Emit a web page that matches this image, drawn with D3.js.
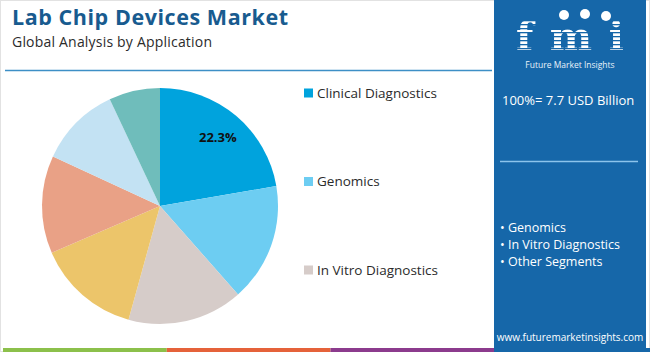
<!DOCTYPE html>
<html>
<head>
<meta charset="utf-8">
<script src="https://cdn.jsdelivr.net/npm/d3@7"></script>
<style>
  body { margin: 0; background: #fff; }
  svg { display: block; font-family: "Open Sans", Roboto, sans-serif; }
</style>
</head>
<body>
<svg></svg>
<script>
let width = 650
let height = 352

// data
let segments = ['Clinical Diagnostics', 'Genomics', 'In Vitro Diagnostics', 'Segment 4', 'Segment 5', 'Segment 6', 'Segment 7']
let shares = [22.3, 16.2, 15.8, 14.2, 13.4, 11.1, 7.0]
let colors = ['#00a3dd', '#6dcdf2', '#d6ccc9', '#ecc56a', '#e9a186', '#c3e2f3', '#6fbdbb']
let legendItems = ['Clinical Diagnostics', 'Genomics', 'In Vitro Diagnostics']
let sideList = ['Genomics', 'In Vitro Diagnostics', 'Other Segments']
let bottomColors = ['#8cc04b', '#e5623a', '#8c3b8d', '#1667a9']
let marketSize = '100%= 7.7 USD Billion'

let svg = d3.select('svg')
            .attr('width', width)
            .attr('height', height)

// frame
svg.append('rect')
   .attr('x', 0.5).attr('y', 0.5)
   .attr('width', width - 1).attr('height', height - 1)
   .attr('fill', '#fff')
   .attr('stroke', '#e2e2e2')

// titles
svg.append('text')
   .attr('x', 12).attr('y', 25)
   .attr('font-size', 21.5)
   .attr('font-weight', 700)
   .attr('fill', '#185b8f')
   .attr('textLength', 276)
   .text('Lab Chip Devices Market')

svg.append('text')
   .attr('x', 12).attr('y', 47)
   .attr('font-size', 14)
   .attr('fill', '#2b2b2b')
   .attr('textLength', 200)
   .text('Global Analysis by Application')

svg.append('line')
   .attr('x1', 5).attr('x2', 492)
   .attr('y1', 70.5).attr('y2', 70.5)
   .attr('stroke', '#3d8fc6')
   .attr('stroke-width', 1.6)

// pie
let cx = 160
let cy = 206
let radius = 118

let pie = d3.pie().sort(null).value(d => d)
let arc = d3.arc().innerRadius(0).outerRadius(radius)
let labelArc = d3.arc().innerRadius(radius * 0.76).outerRadius(radius * 0.76)

let pieG = svg.append('g')
              .attr('transform', 'translate(' + cx + ',' + cy + ')')

let arcs = pie(shares)

pieG.selectAll('path')
    .data(arcs)
    .enter()
    .append('path')
    .attr('d', arc)
    .attr('fill', (d, i) => colors[i])

pieG.append('text')
    .attr('transform', 'translate(' + labelArc.centroid(arcs[0]) + ')')
    .attr('text-anchor', 'middle')
    .attr('dy', '0.35em')
    .attr('font-size', 13)
    .attr('font-weight', 700)
    .attr('fill', '#111')
    .text(shares[0].toFixed(1) + '%')

// legend
let legendY = d3.scalePoint()
                .domain(legendItems)
                .range([93, 270])

let legend = svg.selectAll('.legend')
                .data(legendItems)
                .enter()
                .append('g')
                .attr('class', 'legend')
                .attr('transform', d => 'translate(304,' + legendY(d) + ')')

legend.append('rect')
      .attr('x', 0).attr('y', -4.5)
      .attr('width', 9).attr('height', 9)
      .attr('fill', d => colors[segments.indexOf(d)])

legend.append('text')
      .attr('x', 13)
      .attr('dy', '0.35em')
      .attr('font-size', 13.5)
      .attr('fill', '#2b2b2b')
      .text(d => d)

// right panel
let panelX = 494
svg.append('rect')
   .attr('x', panelX).attr('y', 0)
   .attr('width', 152).attr('height', height)
   .attr('fill', '#1667a9')

// logo
let logo = svg.append('g')
let defs = svg.append('defs')
let mask = defs.append('mask').attr('id', 'stripes')
mask.append('rect')
    .attr('x', panelX).attr('y', 0)
    .attr('width', 152).attr('height', 60)
    .attr('fill', '#fff')
d3.range(20, 52, 4).forEach(y => {
    mask.append('rect')
        .attr('x', panelX).attr('y', y)
        .attr('width', 152).attr('height', 1.3)
        .attr('fill', '#000')
})

logo.append('text')
    .attr('x', 570).attr('y', 50)
    .attr('text-anchor', 'middle')
    .attr('font-family', 'DejaVu Serif, serif')
    .attr('font-weight', 700)
    .attr('font-size', 40)
    .attr('fill', '#fff')
    .attr('mask', 'url(#stripes)')
    .attr('textLength', 108)
    .text('fmi')

;[[564, 15], [585, 14], [606, 16]].forEach(p => {
    logo.append('circle')
        .attr('cx', p[0]).attr('cy', p[1])
        .attr('r', 5)
        .attr('fill', '#fff')
})

logo.append('text')
    .attr('x', 570).attr('y', 68)
    .attr('text-anchor', 'middle')
    .attr('font-size', 8.5)
    .attr('fill', '#e8f2fa')
    .text('Future Market Insights')

svg.append('text')
   .attr('x', 502).attr('y', 105)
   .attr('font-size', 13)
   .attr('fill', '#fff')
   .text(marketSize)

svg.append('line')
   .attr('x1', 500).attr('x2', 638)
   .attr('y1', 161.5).attr('y2', 161.5)
   .attr('stroke', '#8cc4ec')
   .attr('stroke-width', 1.5)

let listY = d3.scalePoint()
              .domain(sideList)
              .range([228, 262])

svg.selectAll('.side')
   .data(sideList)
   .enter()
   .append('text')
   .attr('class', 'side')
   .attr('x', 500)
   .attr('y', d => listY(d))
   .attr('dy', '0.35em')
   .attr('font-size', 12.5)
   .attr('fill', '#fff')
   .text(d => '• ' + d)

svg.append('text')
   .attr('x', 570).attr('y', 341)
   .attr('text-anchor', 'middle')
   .attr('font-size', 10)
   .attr('fill', '#fff')
   .text('www.futuremarketinsights.com')

// bottom strip
let stripX = d3.scaleBand()
               .domain(bottomColors)
               .range([3, 658])

svg.selectAll('.strip')
   .data(bottomColors)
   .enter()
   .append('rect')
   .attr('class', 'strip')
   .attr('x', d => stripX(d))
   .attr('y', 348)
   .attr('width', stripX.bandwidth())
   .attr('height', 4)
   .attr('fill', d => d)
</script>
</body>
</html>
